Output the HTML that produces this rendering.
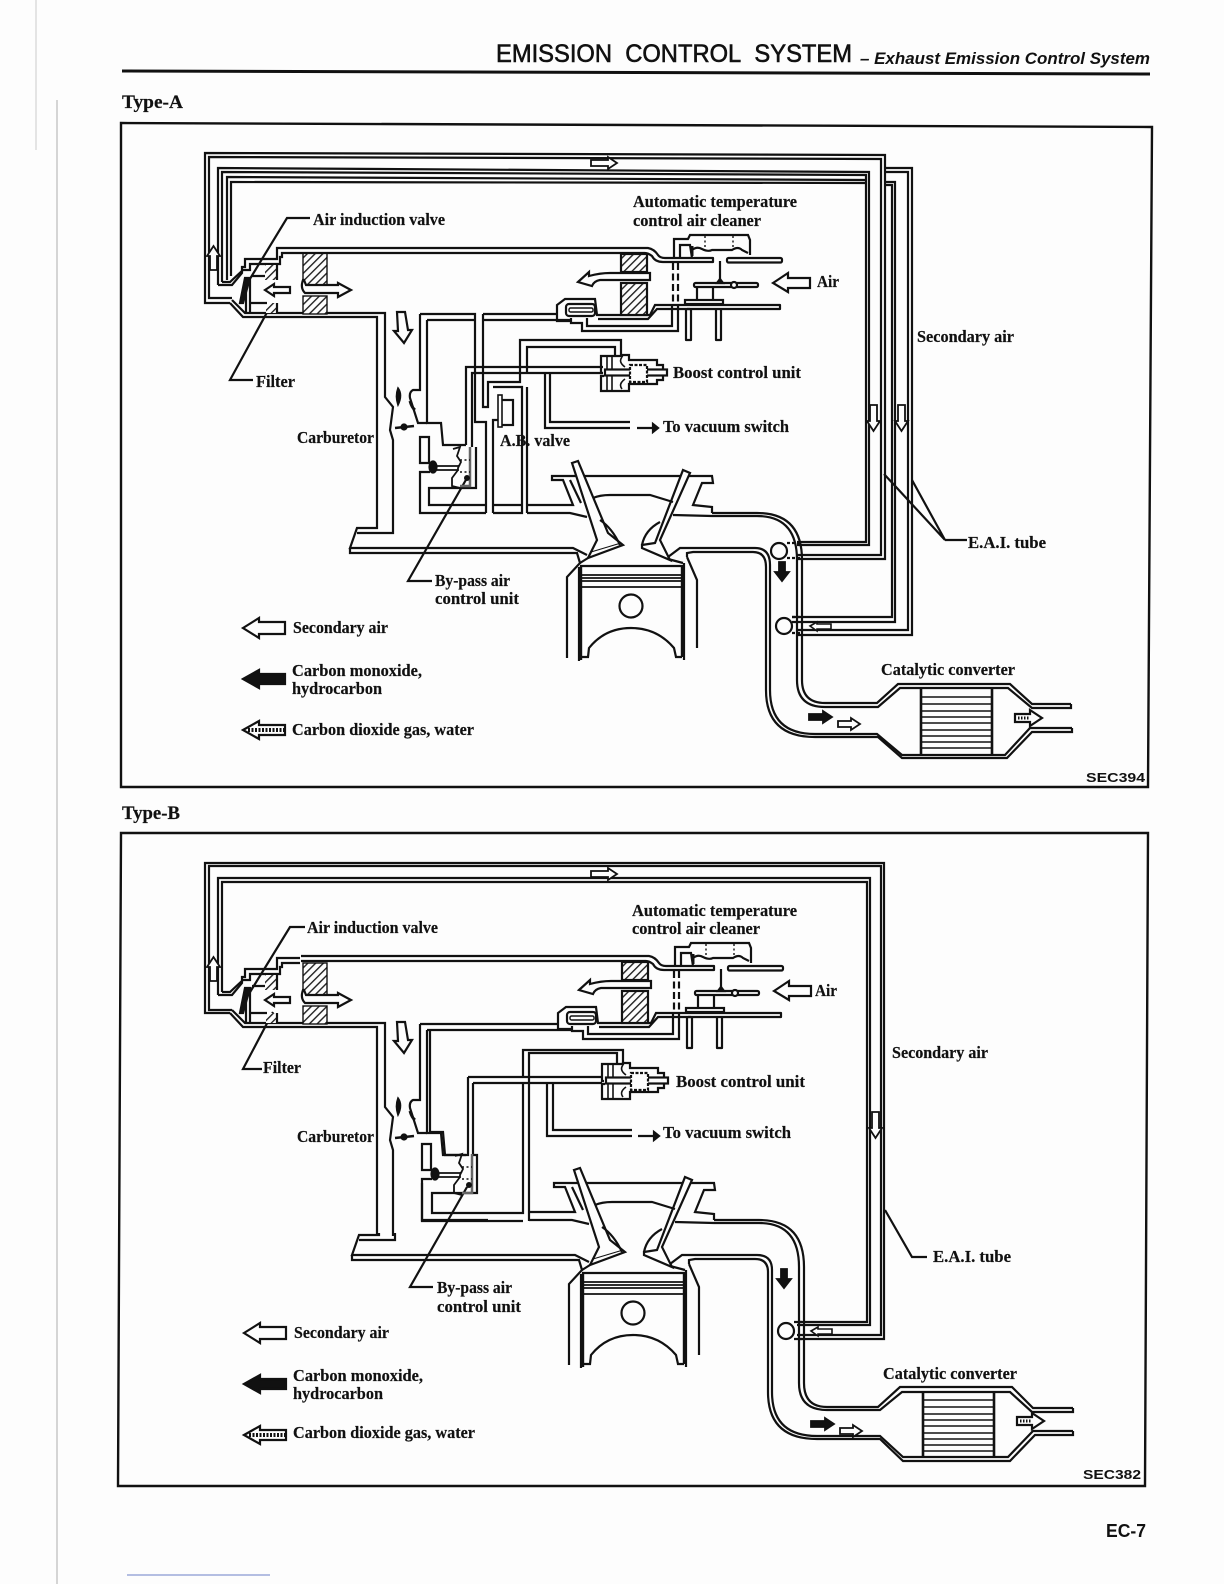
<!DOCTYPE html>
<html><head><meta charset="utf-8"><style>
html,body{margin:0;padding:0;background:#fdfdfd}
svg{display:block}
.l{font-family:"Liberation Serif",serif;font-weight:bold;font-size:16.5px;fill:#111;stroke:#111;stroke-width:.2px}
.s{font-family:"Liberation Sans",sans-serif;font-weight:bold;fill:#111;stroke:none}
</style></head><body>
<svg xmlns="http://www.w3.org/2000/svg" width="1224" height="1584" viewBox="0 0 1224 1584">
<defs>
<pattern id="h" width="5.5" height="5.5" patternUnits="userSpaceOnUse" patternTransform="rotate(45)"><rect width="5.5" height="5.5" fill="#fdfdfd"/><rect width="1.4" height="5.5" fill="#222"/></pattern>
<g id="left" fill="none" stroke="#111" stroke-width="2.2">
<path d="M230 303L243 317H377V526"/>
<path d="M232 300L245 313H385V397L393 407L390 430L393 440V526"/>
<path d="M218 285H232L242 273V267H245V259H277V248H300"/>
<path d="M222 282H230L243 270H250V264H280V257H282V253H300"/>
<path d="M427 320V423H441L443 445H466"/>
<path d="M420 314V390H413Q409 392 410 398L418 423H427"/>
<rect x="303" y="253" width="24" height="32" fill="url(#h)" stroke-width="1.4"/>
<rect x="303" y="296" width="24" height="18" fill="url(#h)" stroke-width="1.4"/>
<rect x="265" y="265" width="12" height="15" fill="url(#h)" stroke="none"/>
<rect x="266" y="303" width="11" height="10" fill="url(#h)" stroke="none"/>
<path d="M277 264V280M277 303V313"/>
<path d="M246 278V313M250 278V313M250 303H267M252 276H265"/>
<path d="M240 303L245 278H250L243 303Z" fill="#111"/>
<path d="M265 290L274 284V287H290V293H274V296Z" fill="#fdfdfd"/>
<path d="M303 280Q300 288 305 293H338V297L351 290L338 283V285H306L304 280Z" fill="#fdfdfd"/>
<path d="M397 312H405L408 330H412L404 343L394 331H398Z" fill="#fdfdfd"/>
<path d="M398 388Q403 395 398 405Q395 396 398 388Z" stroke-width="1.6" fill="#111"/>
<path d="M410 401Q412 408 415 410" stroke-width="3"/>
<path d="M395 428L414 426" stroke-width="2.4"/><circle cx="404" cy="427" r="2.5" fill="#111"/>
</g>
<g id="cleaner" fill="none" stroke="#111" stroke-width="2.2">
<path d="M300 248H648Q654 249 658 255Q660 258 665 258H713V262H663Q655 262 652 256Q648 253 645 253H300" stroke-linejoin="round"/>
<rect x="727" y="258" width="55" height="4.5" rx="1.5"/>
<path d="M557 314V305L565 299H595L597 315H650L655 305H687"/>
<path d="M570 321H557V314M571 318V323H582V331H678V306"/>
<path d="M587 318V326H672V306"/>
<path d="M598 319H648L657 309H690"/>
<rect x="566" y="304" width="29" height="12" rx="3"/>
<rect x="569" y="308" width="24" height="4" rx="1.5" stroke-width="1.4"/>
<rect x="621" y="254" width="26" height="18" fill="url(#h)"/>
<rect x="621" y="283" width="26" height="32" fill="url(#h)"/>
<path d="M578 282L589 272V276Q600 273 610 273H650V280H600Q594 281 592 286Z" fill="#fdfdfd"/>
<path d="M673 263V304M678 263V304" stroke-dasharray="7 3.5"/>
<path d="M687 305H780V309H687" stroke-linejoin="round"/>
<path d="M686 309V340H691V309M716 309V340H721V309" stroke-linejoin="round"/>
<rect x="685" y="300" width="38" height="4"/>
<path d="M697 287V300M713 287V300"/>
<rect x="694" y="283" width="64" height="4" rx="1.5"/>
<circle cx="734" cy="285" r="3" fill="#fdfdfd"/>
<path d="M720 261V283"/>
<path d="M717 283L720 279L723 283Z" fill="#111"/>
<path d="M674 258V239H688L690 235H748L750 240V255"/>
<path d="M680 258V245H690L692 258"/>
<path d="M692 250Q697 246 702 249Q708 252 712 250H732Q738 246 742 250L748 253"/>
<path d="M692 246V256" stroke-width="3"/>
<path d="M705 236V250M733 236V250" stroke-dasharray="2 2.5" stroke-width="1.4"/>
<path d="M773 283L788 273V278H810V288H788V292Z" fill="#fdfdfd"/>
<path d="M603 373H601V356H622V355H629V360H657V365H663V380H657V384H629V391H601V376H604"/>
<path d="M607 356V391M612 356V391" stroke-width="1.6"/>
<rect x="605" y="369.500" width="62" height="6" fill="#fdfdfd"/>
<rect x="630" y="365" width="17" height="17" stroke-dasharray="3 1.5" fill="#fdfdfd"/>
<path d="M622 357Q618 362 625 367M622 389Q618 384 625 379" stroke-width="1.6"/>
<path d="M637 428H656" stroke-width="2.200"/>
<path d="M653 424L658 428L653 432Z" fill="#111"/>
</g>
<g id="engine" fill="none" stroke="#111" stroke-width="2.2">
<path d="M377 526V528H357L350 548H573L587 555"/>
<path d="M393 526V533H357M350 548V553H577L580 563L567 577V658"/>
<path d="M420 437H429V463H420Z"/>
<path d="M430 472H420V513H486"/>
<path d="M527 513H570L587 517"/>
<path d="M527 505H573L563 480H552V476H712L713 483H702L693 505L712 507V513"/>
<path d="M572 463L578 461L608 533L623 545L588 558L597 540Z" fill="#fdfdfd"/>
<path d="M591 552L621 543" stroke-width="1"/>
<path d="M683 470L690 473L660 540L670 560L642 548V545L655 543Z" fill="#fdfdfd"/>
<path d="M593 498Q600 495 610 495H650L673 502"/>
<path d="M600 520Q612 528 620 545M660 522Q645 530 642 545"/>
<path d="M570 480L581 503"/>
<path d="M673 515L712 516"/>
<path d="M580 563L588 558M668 559L683 563"/>
<path d="M580 566H683"/>
<path d="M581 566V660M682 566V657" stroke-width="2.400"/>
<path d="M579 567V661M684 563V660"/>
<path d="M582 575H681M582 578H681M582 581H681M582 587H681" stroke-width="1.800"/>
<circle cx="631" cy="606" r="11.500"/>
<path d="M581 657H588L589 648Q605 628 631 628Q657 628 674 648L676 657H682"/>
<path d="M668 557L680 548H700M687 557V553L693 552H700M687 557L697 580V648"/>
<path d="M453 449L460 447L457 456L461 462L458 468V470H436M436 466H458L460 465" stroke-width="1.800"/>
<path d="M458 470L452 478V486L460 488" stroke-width="1.800"/>
<path d="M470 447V486H460" stroke="#666" stroke-width="2.500"/>
<path d="M460 460H470M460 472H470" stroke-dasharray="2 2.500" stroke-width="1.400"/>
<ellipse cx="433" cy="467" rx="3.500" ry="5.500" fill="#111"/>
<circle cx="467" cy="478" r="3" fill="#111" stroke="none"/>
</g>
<g id="cat" fill="none" stroke="#111" stroke-width="2.2">
<path d="M922 697H991M922 704H991M922 711H991M922 717H991M922 723H991M922 730H991M922 736H991M922 742H991M922 748H991" stroke-width="1.500"/>
<path d="M1015 714H1030V710L1042 718L1030 726V722H1015Z" fill="#fdfdfd"/>
<path d="M1018 718H1030" stroke-dasharray="1.500 1.500" stroke-width="3"/>
</g>
<g id="legend" fill="none" stroke="#111" stroke-width="2.200">
<path d="M243 628L259 618V622H285V634H259V638Z"/>
<path d="M243 679L259 670V674H285V684H259V688Z" fill="#111"/>
<path d="M243 730L259 721V725H285V735H259V739Z"/>
<path d="M248 730H284" stroke-dasharray="2 1.500" stroke-width="4"/>
</g>
<path id="upa" d="M210 270H217V256H220L213.500 246L207 256H210Z" fill="#fdfdfd" stroke="#111" stroke-width="1.800"/>
<path id="rta" d="M591 160H608V157L617 163L608 169V166H591Z" fill="#fdfdfd" stroke="#111" stroke-width="1.800"/>
<path id="dna" d="M0 0H7V16H10L3.500 26L-3 16H0Z" fill="#fdfdfd" stroke="#111" stroke-width="1.800"/>
<g id="exharrows" fill="#111" stroke="#111" stroke-width="1.800">
<path d="M779 562H785V572H789L782 581L775 572H779Z"/>
<path d="M809 714H823V711L832 717L823 723V720H809Z"/>
<path d="M838 721H851V718L860 724L851 730V727H838Z" fill="#fdfdfd"/>
</g>
</defs>

<!-- page margins -->
<path d="M36 0V150" stroke="#ccc" stroke-width="1" fill="none"/>
<path d="M57 100V1584" stroke="#bbb" stroke-width="1.200" fill="none"/>
<path d="M127 1575H270" stroke="#6a7fc8" stroke-width="1" fill="none"/>

<!-- header -->
<text x="496" y="62" class="s" font-size="25" style="font-weight:normal;stroke:#111;stroke-width:.6px" textLength="356" lengthAdjust="spacingAndGlyphs">EMISSION&#160;&#160;CONTROL&#160;&#160;SYSTEM</text>
<text x="860" y="64" class="s" font-size="16.5" font-style="italic" textLength="290" lengthAdjust="spacingAndGlyphs">– Exhaust Emission Control System</text>
<path d="M122 71L1150 74" stroke="#111" stroke-width="3" fill="none"/>
<text x="122" y="108" class="l" style="font-size:19px" textLength="61" lengthAdjust="spacingAndGlyphs">Type-A</text>
<text x="122" y="819" class="l" style="font-size:19px" textLength="58" lengthAdjust="spacingAndGlyphs">Type-B</text>

<!-- frames -->
<path d="M121 123L1152 127L1148 787H121Z" fill="none" stroke="#111" stroke-width="2.400"/>
<path d="M121 833H1148L1145 1486H118Z" fill="none" stroke="#111" stroke-width="2.400"/>

<!-- ===== TYPE A ===== -->
<g fill="none" stroke="#111" stroke-width="2.200">
<path d="M797 559H885V155L205 153V303H230"/>
<path d="M797 555H881V159L209 157V298H232"/>
<path d="M797 635H912V168H885"/>
<path d="M797 630H908V172H885"/>
<path d="M792 622H895V182H885"/>
<path d="M792 617H892V185H885"/>
<path d="M797 545H869V172L218 168V285"/>
<path d="M797 542H866V175L222 172V282"/>
<path d="M866 180L227 177V280"/>
<path d="M866 183L231 182V276"/>
<path d="M420 314H475V422H486V513M427 320H476"/>
<path d="M476 447V488H429V505H486"/>
<path d="M483 314V407H488V382H520V367"/>
<path d="M483 314H558M483 320H571"/>
<path d="M493 513V420H500"/>
<path d="M493 387H522V513H493M493 505H522"/>
<path d="M466 445V367H603"/>
<path d="M472 447V373H603"/>
<path d="M545 373V428H630M550 373V422H630"/>
<path d="M520 367V340H621V355M527 367V347H615V355"/>
<path d="M527 387V513M527 373V367"/>
<rect x="500" y="400" width="13" height="25"/>
<rect x="498" y="395" width="4" height="32" fill="#fdfdfd" stroke-width="1.600"/>
<!-- exhaust / catalytic converter -->
<path d="M712 513H757Q802 513 802 560V680Q802 703 825 703H877L898 684H1010L1032 704H1071"/>
<path d="M712 516H757Q797 516 797 560V680Q797 707 825 707H878L900 688H1008L1032 708H1071V704"/>
<path d="M700 548H755Q770 548 770 565V690Q770 734 815 734H877L902 755H1005L1030 728H1072"/>
<path d="M700 552H753Q766 552 766 567V690Q766 737 815 737H878L902 758H1007L1032 732H1072V728"/>
<path d="M921 688V756M992 688V756" stroke-width="2.600"/>
<circle cx="779" cy="551" r="8"/>
<circle cx="784" cy="626" r="8"/>
<path d="M787 543H800M787 558H800M792 617H800M792 633H800" stroke-dasharray="3 2"/>
<path d="M810 626L817 622V624H831V629H817V631Z" fill="#fdfdfd" stroke-width="1.600"/>
<!-- leaders -->
<path d="M245 287L287 218H310M270 307L230 380H253M467 478L408 581H432M884 474L945 540L912 480M945 540H967"/>
</g>
<use href="#left"/><use href="#cleaner"/><use href="#engine"/><use href="#cat"/><use href="#legend"/>
<use href="#upa"/><use href="#rta"/>
<use href="#dna" x="870" y="405"/><use href="#dna" x="898" y="405"/>
<use href="#exharrows"/>

<text class="l" x="313" y="225" textLength="132" lengthAdjust="spacingAndGlyphs">Air induction valve</text>
<text class="l" x="256" y="387" textLength="39" lengthAdjust="spacingAndGlyphs">Filter</text>
<text class="l" x="297" y="443" textLength="77" lengthAdjust="spacingAndGlyphs">Carburetor</text>
<text class="l" x="500" y="446" textLength="70" lengthAdjust="spacingAndGlyphs">A.B. valve</text>
<text class="l" x="435" y="586" textLength="75" lengthAdjust="spacingAndGlyphs">By-pass air</text>
<text class="l" x="435" y="604" textLength="84" lengthAdjust="spacingAndGlyphs">control unit</text>
<text class="l" x="293" y="633" textLength="95" lengthAdjust="spacingAndGlyphs">Secondary air</text>
<text class="l" x="292" y="676" textLength="130" lengthAdjust="spacingAndGlyphs">Carbon monoxide,</text>
<text class="l" x="292" y="694" textLength="90" lengthAdjust="spacingAndGlyphs">hydrocarbon</text>
<text class="l" x="292" y="735" textLength="182" lengthAdjust="spacingAndGlyphs">Carbon dioxide gas, water</text>
<text class="l" x="633" y="207" textLength="164" lengthAdjust="spacingAndGlyphs">Automatic temperature</text>
<text class="l" x="633" y="226" textLength="128" lengthAdjust="spacingAndGlyphs">control air cleaner</text>
<text class="l" x="817" y="287" textLength="22" lengthAdjust="spacingAndGlyphs">Air</text>
<text class="l" x="673" y="378" textLength="128" lengthAdjust="spacingAndGlyphs">Boost control unit</text>
<text class="l" x="663" y="432" textLength="126" lengthAdjust="spacingAndGlyphs">To vacuum switch</text>
<text class="l" x="917" y="342" textLength="97" lengthAdjust="spacingAndGlyphs">Secondary air</text>
<text class="l" x="968" y="548" textLength="78" lengthAdjust="spacingAndGlyphs">E.A.I. tube</text>
<text class="l" x="881" y="675" textLength="134" lengthAdjust="spacingAndGlyphs">Catalytic converter</text>
<text class="s" x="1086" y="782" font-size="13" textLength="59" lengthAdjust="spacingAndGlyphs">SEC394</text>

<!-- ===== TYPE B ===== -->
<g fill="none" stroke="#111" stroke-width="2.200">
<path d="M797 1339H884V863H205V1013H230"/>
<path d="M797 1335H881V866H209V1010H232"/>
<path d="M797 1325H870V878H218V995"/>
<path d="M797 1322H867V882H222V992"/>
<path d="M420 1024H558M427 1030H571"/>
<path d="M468 1077H603M473 1083H602"/>
<path d="M468 1077V1155H445L443 1132H430V1030"/>
<path d="M473 1083V1155H477V1193H432V1213H523V1083"/>
<path d="M422 1183V1221H523"/>
<path d="M529 1221V1053H617V1063"/>
<path d="M523 1077V1050H623V1063"/>
<path d="M547 1083V1136H632M553 1083V1130H632"/>
<!-- exhaust / catalytic converter -->
<path d="M714 1220H759Q804 1220 804 1267V1383Q804 1407 827 1407H878L900 1387H1012L1033 1408H1073"/>
<path d="M714 1223H759Q799 1223 799 1267V1383Q799 1410 827 1410H880L902 1392H1010L1032 1412H1073V1408"/>
<path d="M702 1255H757Q772 1255 772 1270V1392Q772 1436 817 1436H880L903 1457H1008L1033 1431H1073"/>
<path d="M702 1259H755Q768 1259 768 1272V1392Q768 1439 817 1439H880L903 1461H1010L1035 1435H1073V1431"/>
<path d="M923 1391V1458M994 1391V1458" stroke-width="2.600"/>
<circle cx="786" cy="1331" r="8"/>
<path d="M794 1322H802M794 1339H802" stroke-dasharray="3 2"/>
<path d="M811 1331L818 1327V1329H832V1334H818V1336Z" fill="#fdfdfd" stroke-width="1.600"/>
<!-- leaders -->
<path d="M247 997L290 927H305M273 1012L243 1069H262M467 1187L410 1287H433M885 1210L912 1257H927"/>
</g>
<use href="#left" y="710"/><use href="#cleaner" x="1" y="708"/><use href="#engine" x="2" y="707"/><use href="#cat" x="2" y="703"/><use href="#legend" x="1" y="705"/>
<use href="#upa" y="711"/><use href="#rta" y="711"/>
<use href="#dna" x="872" y="1112"/>
<use href="#exharrows" x="2" y="707"/>

<text class="l" x="307" y="933" textLength="131" lengthAdjust="spacingAndGlyphs">Air induction valve</text>
<text class="l" x="263" y="1073" textLength="38" lengthAdjust="spacingAndGlyphs">Filter</text>
<text class="l" x="297" y="1142" textLength="77" lengthAdjust="spacingAndGlyphs">Carburetor</text>
<text class="l" x="437" y="1293" textLength="75" lengthAdjust="spacingAndGlyphs">By-pass air</text>
<text class="l" x="437" y="1312" textLength="84" lengthAdjust="spacingAndGlyphs">control unit</text>
<text class="l" x="294" y="1338" textLength="95" lengthAdjust="spacingAndGlyphs">Secondary air</text>
<text class="l" x="293" y="1381" textLength="130" lengthAdjust="spacingAndGlyphs">Carbon monoxide,</text>
<text class="l" x="293" y="1399" textLength="90" lengthAdjust="spacingAndGlyphs">hydrocarbon</text>
<text class="l" x="293" y="1438" textLength="182" lengthAdjust="spacingAndGlyphs">Carbon dioxide gas, water</text>
<text class="l" x="632" y="916" textLength="165" lengthAdjust="spacingAndGlyphs">Automatic temperature</text>
<text class="l" x="632" y="934" textLength="128" lengthAdjust="spacingAndGlyphs">control air cleaner</text>
<text class="l" x="815" y="996" textLength="22" lengthAdjust="spacingAndGlyphs">Air</text>
<text class="l" x="676" y="1087" textLength="129" lengthAdjust="spacingAndGlyphs">Boost control unit</text>
<text class="l" x="663" y="1138" textLength="128" lengthAdjust="spacingAndGlyphs">To vacuum switch</text>
<text class="l" x="892" y="1058" textLength="96" lengthAdjust="spacingAndGlyphs">Secondary air</text>
<text class="l" x="933" y="1262" textLength="78" lengthAdjust="spacingAndGlyphs">E.A.I. tube</text>
<text class="l" x="883" y="1379" textLength="134" lengthAdjust="spacingAndGlyphs">Catalytic converter</text>
<text class="s" x="1083" y="1479" font-size="13" textLength="58" lengthAdjust="spacingAndGlyphs">SEC382</text>

<text class="s" x="1106" y="1537" font-size="18" textLength="40" lengthAdjust="spacingAndGlyphs">EC-7</text>
</svg>
</body></html>
